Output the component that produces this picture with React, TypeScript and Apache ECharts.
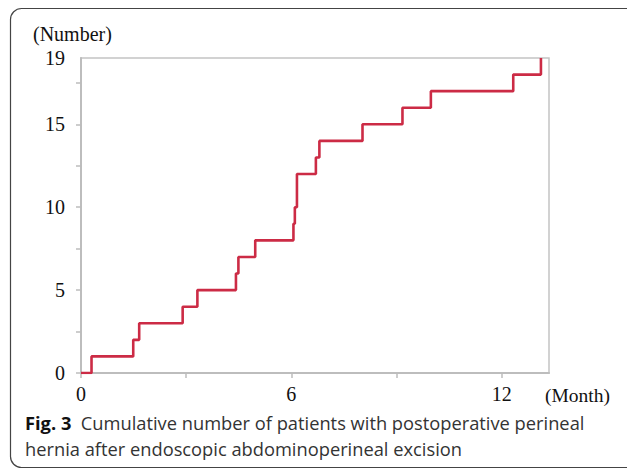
import React, { useEffect, useRef } from "react";
import * as echarts from "echarts";

// Event times (months) and cumulative number of patients after each event
const eventMonths = [0, 0.3, 1.49, 1.66, 2.9, 3.32, 4.42, 4.49, 4.97, 6.06, 6.1, 6.16, 6.7, 6.8, 8.03, 9.17, 9.98, 12.33, 13.12];
const cumulativeCounts = [0, 1, 2, 3, 4, 5, 6, 7, 8, 9, 10, 12, 13, 14, 15, 16, 17, 18, 19];

const xTickValues = [0, 3, 6, 9, 12];
const xLabelValues = [0, 6, 12];
const yTickValues = [0, 2.5, 5, 7.5, 10, 12.5, 15, 17.5];
const yLabelValues = [0, 5, 10, 15, 19];

const yAxisTitle = "(Number)";
const xAxisTitle = "(Month)";
const captionBold = "Fig. 3";
const captionLine1 = "Cumulative number of patients with postoperative perineal";
const captionLine2 = "hernia after endoscopic abdominoperineal excision";

export default function App() {
  const ref = useRef<HTMLDivElement>(null);
  useEffect(() => {
    if (!ref.current) return;
    const chart = echarts.init(ref.current, null, { renderer: "svg" });
    const data = eventMonths.map((t, i) => [t, cumulativeCounts[i]]);
    const serif = "'Liberation Serif', 'DejaVu Serif', serif";
    const sans = "'Open Sans', 'Noto Sans', sans-serif";
    const axisColor = "#bdbdbd";
    chart.setOption({
      animation: false,
      backgroundColor: "#ffffff",
      grid: {
        left: 81,
        top: 58,
        width: 468,
        height: 315,
        show: true,
        borderColor: "#c4c4c4",
        borderWidth: 1.5,
        backgroundColor: "transparent",
      },
      xAxis: {
        type: "value",
        min: 0,
        max: 13.35,
        splitLine: { show: false },
        axisLine: { show: true, lineStyle: { color: axisColor, width: 2 } },
        axisTick: { show: true, length: 5, customValues: xTickValues, lineStyle: { color: axisColor, width: 1.5 } },
        axisLabel: {
          customValues: xLabelValues,
          margin: 11,
          fontFamily: serif,
          fontSize: 20,
          color: "#111",
        },
      },
      yAxis: {
        type: "value",
        min: 0,
        max: 19,
        splitLine: { show: false },
        axisLine: { show: true, lineStyle: { color: axisColor, width: 2 } },
        axisTick: { show: true, length: 5, customValues: yTickValues, lineStyle: { color: axisColor, width: 1.5 } },
        axisLabel: {
          customValues: yLabelValues,
          margin: 16,
          fontFamily: serif,
          fontSize: 20,
          color: "#111",
        },
      },
      series: [
        {
          type: "line",
          step: "end",
          data,
          symbol: "none",
          lineStyle: { color: "#cc2b45", width: 2.6 },
          z: 5,
        },
      ],
      graphic: [
        {
          type: "rect",
          shape: { x: 10.5, y: 8.5, width: 640, height: 459, r: 11 },
          style: { fill: "none", stroke: "#444", lineWidth: 1.2 },
          silent: true,
        },
        {
          type: "text",
          x: 33,
          y: 34,
          style: { text: yAxisTitle, font: "20px " + serif, fill: "#111", verticalAlign: "middle" },
        },
        {
          type: "text",
          x: 545,
          y: 395,
          style: { text: xAxisTitle, font: "19.5px " + serif, fill: "#111", verticalAlign: "middle" },
        },
        {
          type: "text",
          x: 25,
          y: 422,
          style: {
            text: "{b|" + captionBold + "}  " + captionLine1,
            font: "18.3px " + sans,
            fill: "#333",
            verticalAlign: "middle",
            rich: {
              b: { fontFamily: sans, fontWeight: "bold", fontSize: 18.3, fill: "#111" },
            },
          },
        },
        {
          type: "text",
          x: 25,
          y: 448,
          style: { text: captionLine2, font: "18.3px " + sans, fill: "#333", verticalAlign: "middle" },
        },
      ],
    });
    return () => chart.dispose();
  }, []);
  return <div ref={ref} style={{ position: "fixed", left: 0, top: 0, width: 627, height: 470 }} />;
}
